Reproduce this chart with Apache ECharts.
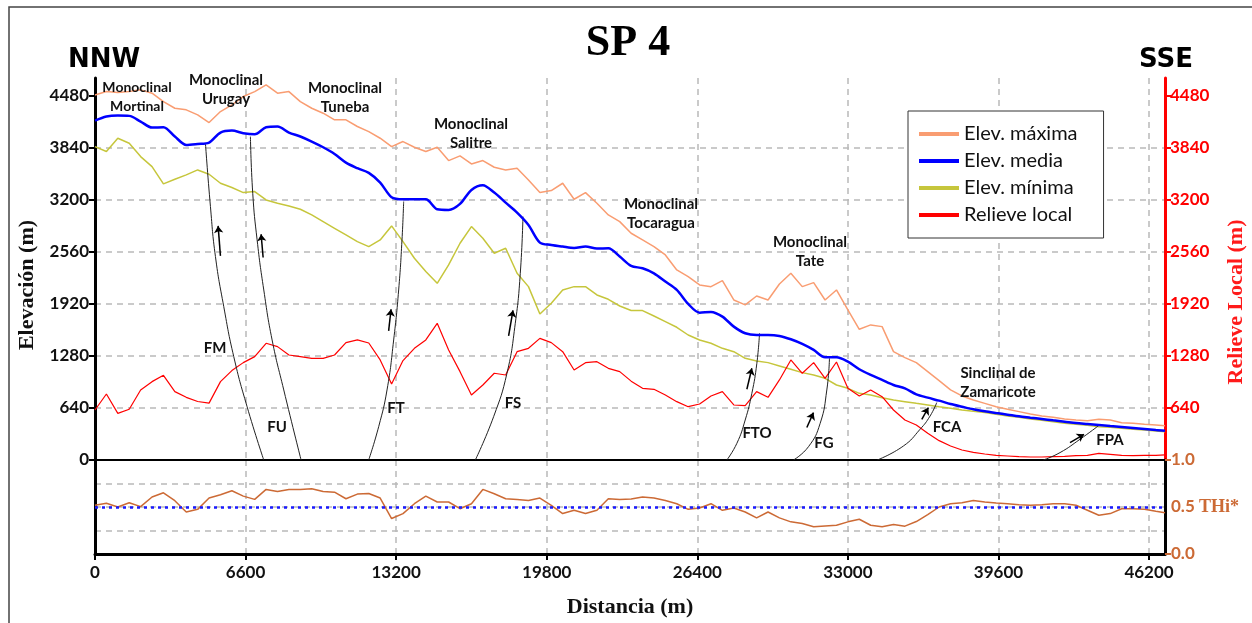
<!DOCTYPE html>
<html>
<head>
<meta charset="utf-8">
<title>SP 4</title>
<script src="https://cdn.jsdelivr.net/npm/echarts@6/dist/echarts.min.js"></script>
<style>
  html, body { margin: 0; padding: 0; background: #fff; }
  #main { width: 1252px; height: 623px; }
</style>
</head>
<body>
<div id="main"></div>
<script>
// distancia (m), one sample every 500 m, last one at the end of the profile
var distancia = [];
for (var i = 0; i <= 93; i++) distancia.push(i * 500);
distancia.push(46900);

var elevMax = [4492, 4533, 4521, 4533, 4554, 4513, 4410, 4328, 4308, 4246, 4152, 4287, 4369, 4472, 4533, 4615,
  4513, 4533, 4410, 4328, 4267, 4185, 4185, 4103, 4040, 3959, 3856, 3918, 3848, 3795, 3848, 3684, 3742, 3643,
  3684, 3602, 3569, 3590, 3446, 3290, 3315, 3405, 3208, 3290, 3159, 3015, 2933, 2790, 2708, 2626, 2523, 2338,
  2256, 2154, 2133, 2207, 1969, 1908, 2018, 1969, 2166, 2297, 2133, 2182, 1969, 2092, 1846, 1608, 1662, 1641,
  1333, 1260, 1198, 1087, 976, 862, 788, 738, 697, 656, 624, 595, 566, 542, 525, 505, 492, 484, 500, 492, 459,
  451, 439, 431, 422];

var elevMedia = [4176, 4226, 4238, 4234, 4164, 4090, 4094, 3980, 3877, 3889, 3906, 4029, 4053, 4021, 4008, 4094,
  4103, 4029, 3980, 3918, 3848, 3766, 3659, 3590, 3532, 3413, 3233, 3208, 3208, 3208, 3085, 3077, 3151, 3323,
  3381, 3290, 3167, 3044, 2892, 2675, 2646, 2626, 2609, 2626, 2601, 2605, 2503, 2388, 2359, 2297, 2195, 2092,
  1920, 1813, 1822, 1764, 1641, 1559, 1538, 1538, 1526, 1485, 1428, 1354, 1264, 1264, 1210, 1116, 1046, 985,
  923, 882, 808, 767, 730, 689, 656, 624, 599, 578, 558, 537, 521, 505, 488, 472, 455, 443, 431, 418, 406, 394,
  382, 369, 361];

var elevMin = [3856, 3795, 3959, 3897, 3733, 3610, 3397, 3454, 3508, 3569, 3516, 3405, 3352, 3290, 3303, 3200,
  3159, 3126, 3085, 3015, 2933, 2851, 2769, 2687, 2626, 2708, 2880, 2687, 2482, 2318, 2174, 2400, 2667, 2872,
  2728, 2544, 2605, 2297, 2133, 1797, 1928, 2092, 2133, 2133, 2031, 1977, 1895, 1840, 1838, 1772, 1703, 1633,
  1538, 1477, 1436, 1374, 1333, 1251, 1218, 1198, 1157, 1116, 1075, 1046, 1005, 923, 882, 820, 800, 767, 738,
  718, 697, 677, 656, 636, 615, 599, 583, 562, 542, 525, 505, 488, 472, 451, 439, 427, 410, 402, 390, 377, 369,
  357, 349];

var relieveLocal = [615, 812, 574, 624, 862, 964, 1042, 841, 771, 720, 700, 964, 1100, 1198, 1272, 1436, 1395,
  1292, 1272, 1251, 1251, 1292, 1444, 1477, 1440, 1231, 935, 1223, 1374, 1477, 1682, 1354, 1087, 800, 923, 1067,
  1046, 1333, 1374, 1497, 1444, 1333, 1108, 1198, 1210, 1128, 1087, 970, 882, 870, 800, 718, 656, 689, 788, 841,
  677, 669, 841, 771, 985, 1231, 1067, 1198, 1005, 1206, 882, 788, 862, 779, 615, 492, 431, 328, 238, 172, 123,
  94, 74, 57, 49, 41, 37, 37, 41, 45, 53, 57, 82, 70, 57, 53, 57, 57, 62];

var thi = [0.518, 0.539, 0.50, 0.546, 0.504, 0.606, 0.651, 0.567, 0.447, 0.475, 0.595, 0.630, 0.673, 0.616,
  0.581, 0.687, 0.665, 0.687, 0.687, 0.694, 0.665, 0.658, 0.588, 0.637, 0.644, 0.595, 0.377, 0.430, 0.535, 0.616,
  0.553, 0.553, 0.482, 0.535, 0.687, 0.641, 0.588, 0.581, 0.570, 0.595, 0.518, 0.430, 0.465, 0.430, 0.465, 0.588,
  0.581, 0.585, 0.606, 0.595, 0.570, 0.535, 0.475, 0.489, 0.535, 0.465, 0.489, 0.447, 0.384, 0.447, 0.384, 0.342,
  0.324, 0.289, 0.299, 0.306, 0.342, 0.370, 0.306, 0.289, 0.313, 0.296, 0.345, 0.419, 0.50, 0.535, 0.546, 0.570,
  0.553, 0.542, 0.535, 0.525, 0.518, 0.525, 0.535, 0.535, 0.518, 0.465, 0.412, 0.430, 0.482, 0.482, 0.475, 0.454,
  0.440];

var thiRef = 0.5;
var distTicks = [0, 6600, 13200, 19800, 26400, 33000, 39600, 46200];
var elevTicks = [0, 640, 1280, 1920, 2560, 3200, 3840, 4480];

// fault traces [distancia, elevación] and their slip arrows [tail, head]
var fallas = [
  { name: 'FM', line: [[4841, 3897], [5060, 3118], [5279, 2503], [5644, 1887], [6082, 1272], [6666, 656], [7396, 0]],
    arrow: [[5498, 2511], [5396, 2880]] },
  { name: 'FU', line: [[6812, 3979], [6914, 3282], [7106, 2708], [7398, 2092], [7763, 1477], [8274, 862], [9033, 0]],
    arrow: [[7369, 2491], [7281, 2778]] },
  { name: 'FT', line: [[13529, 3180], [13456, 2708], [13310, 2092], [13091, 1477], [12800, 862], [12434, 410], [11996, 0]],
    arrow: [[12871, 1588], [12976, 1855]] },
  { name: 'FS', line: [[18759, 2995], [18641, 2297], [18422, 1682], [18057, 1067], [17472, 533], [16670, 0]],
    arrow: [[18129, 1526], [18321, 1842]] },
  { name: 'FTO', line: [[29127, 1559], [29010, 1190], [28791, 820], [28499, 492], [28134, 205], [27696, 0]],
    arrow: [[28572, 870], [28791, 1129]] },
  { name: 'FG', line: [[32193, 1251], [32077, 862], [31785, 451], [31274, 164], [30617, 0]],
    arrow: [[31201, 399], [31492, 583]] },
  { name: 'FCA', line: [[36895, 706], [36603, 541], [36165, 378], [35433, 172], [34288, 0]],
    arrow: [[36239, 501], [36528, 645]] },
  { name: 'FPA', line: [[43976, 420], [43174, 255], [42298, 91], [41567, 0]],
    arrow: [[42737, 214], [43350, 316]] }
];

function zip(xs, ys) {
  return xs.map(function (x, i) { return [x, ys[i]]; });
}
function plain(v) { return String(v); }

var SANS = 'Lato, "DejaVu Sans", sans-serif';
var SERIF = '"Liberation Serif", "DejaVu Serif", serif';
var BROWN = '#cc6a35';
var gridDash = { color: '#b9b9b9', type: [6, 5], width: 1.5 };

var chart = echarts.init(document.getElementById('main'));

var series = [
  { name: 'Elev. máxima', type: 'line', data: zip(distancia, elevMax), xAxisIndex: 0, yAxisIndex: 0,
    showSymbol: false, lineStyle: { color: '#f99d72', width: 1.5 }, itemStyle: { color: '#f99d72' } },
  { name: 'Elev. media', type: 'line', data: zip(distancia, elevMedia), xAxisIndex: 0, yAxisIndex: 0,
    showSymbol: false, smooth: 0.3, lineStyle: { color: '#0000ff', width: 2.5 }, itemStyle: { color: '#0000ff' }, z: 4 },
  { name: 'Elev. mínima', type: 'line', data: zip(distancia, elevMin), xAxisIndex: 0, yAxisIndex: 0,
    showSymbol: false, lineStyle: { color: '#c6c63c', width: 1.5 }, itemStyle: { color: '#c6c63c' } },
  { name: 'Relieve local', type: 'line', data: zip(distancia, relieveLocal), xAxisIndex: 0, yAxisIndex: 1,
    showSymbol: false, lineStyle: { color: '#ff0000', width: 1.2 }, itemStyle: { color: '#ff0000' } },
  { name: 'THi', type: 'line', data: zip(distancia, thi), xAxisIndex: 1, yAxisIndex: 2,
    showSymbol: false, lineStyle: { color: BROWN, width: 1.5 },
    markLine: { silent: true, symbol: 'none', label: { show: false },
      lineStyle: { color: '#1a1aff', width: 2.5, type: [3, 4] }, data: [{ yAxis: thiRef }] } }
];

fallas.forEach(function (f) {
  series.push({
    name: f.name, type: 'line', data: f.line, xAxisIndex: 0, yAxisIndex: 0,
    smooth: true, showSymbol: false, silent: true, z: 3,
    lineStyle: { color: '#222', width: 1 },
    markLine: { silent: true, symbol: ['none', 'arrow'], symbolSize: 7, label: { show: false },
      lineStyle: { color: '#000', width: 1.5, type: 'solid' },
      data: [[{ coord: f.arrow[0] }, { coord: f.arrow[1] }]] }
  });
});

function txt(text, x, y, font, color, rot) {
  return { type: 'text', x: x, y: y, rotation: rot || 0, z: 50,
    style: { text: text, font: font, fill: color || '#111', textAlign: 'center', textVerticalAlign: 'middle',
      align: 'center', verticalAlign: 'middle', lineHeight: 19 } };
}

var lblFont = 'bold 15px ' + SANS;
var graphic = [
  { type: 'rect', shape: { x: 9, y: 7, width: 1300, height: 700 }, style: { fill: 'none', stroke: '#444', lineWidth: 1.5 }, silent: true },
  txt('SP 4', 628, 44, 'bold 44px ' + SERIF, '#000'),
  txt('NNW', 104, 60, 'bold 26px "DejaVu Sans", sans-serif', '#000'),
  txt('SSE', 1166, 60, 'bold 26px "DejaVu Sans", sans-serif', '#000'),
  txt('Elevación (m)', 27, 285, 'bold 22px ' + SERIF, '#111', Math.PI / 2),
  txt('Relieve Local (m)', 1236, 302, 'bold 22px ' + SERIF, '#ff1a1a', Math.PI / 2),
  txt('Monoclinal\nMortinal', 137, 97, 'bold 14px ' + SANS),
  txt('Monoclinal\nUrugay', 226, 90, lblFont),
  txt('Monoclinal\nTuneba', 345, 98, lblFont),
  txt('Monoclinal\nSalitre', 471, 134, lblFont),
  txt('Monoclinal\nTocaragua', 661, 214, lblFont),
  txt('Monoclinal\nTate', 810, 252, lblFont),
  txt('Sinclinal de\nZamaricote', 998, 383, lblFont)
];
var faultLabelPos = { FM: [215, 348], FU: [277, 427], FT: [396, 408], FS: [513, 403],
  FTO: [757, 433], FG: [824, 443], FCA: [947, 427], FPA: [1110, 440] };
fallas.forEach(function (f) {
  var p = faultLabelPos[f.name];
  graphic.push(txt(f.name, p[0], p[1], 'bold 15px ' + SANS));
});

var option = {
  animation: false,
  backgroundColor: '#fff',
  graphic: graphic,
  legend: {
    data: [
      { name: 'Elev. máxima', icon: 'rect' },
      { name: 'Elev. media', icon: 'rect' },
      { name: 'Elev. mínima', icon: 'rect' },
      { name: 'Relieve local', icon: 'rect' }
    ],
    orient: 'vertical', left: 908, top: 111,
    itemWidth: 40, itemHeight: 4, itemGap: 7,
    padding: [13, 26, 13, 11],
    borderColor: '#333', borderWidth: 1, backgroundColor: '#fff',
    textStyle: { fontFamily: SANS, fontSize: 20, color: '#111' },
    selectedMode: false
  },
  grid: [
    { left: 95, right: 87, top: 78, height: 382 },
    { left: 95, right: 87, top: 460, height: 94 }
  ],
  xAxis: [
    { type: 'value', gridIndex: 0, min: 0, max: 46900, interval: 6600,
      axisLine: { lineStyle: { color: '#000', width: 2 } },
      axisTick: { show: false }, axisLabel: { show: false },
      splitLine: { show: true, lineStyle: gridDash } },
    { type: 'value', gridIndex: 1, min: 0, max: 46900, interval: 6600,
      name: 'Distancia (m)', nameLocation: 'middle', nameGap: 42,
      nameTextStyle: { fontFamily: SERIF, fontWeight: 'bold', fontSize: 22, color: '#111' },
      axisLine: { lineStyle: { color: '#000', width: 3 } },
      axisTick: { show: true, length: 6, lineStyle: { color: '#000', width: 2 }, customValues: distTicks },
      axisLabel: { fontFamily: SANS, fontWeight: 'bold', fontSize: 17, color: '#111', margin: 10,
        customValues: distTicks, formatter: plain },
      splitLine: { show: true, lineStyle: gridDash } }
  ],
  yAxis: [
    { type: 'value', gridIndex: 0, position: 'left', min: 0, max: 4700, interval: 640,
      axisLine: { show: true, lineStyle: { color: '#000', width: 3 } },
      axisTick: { show: true, length: 6, lineStyle: { color: '#000', width: 2 }, customValues: elevTicks },
      axisLabel: { fontFamily: SANS, fontWeight: 'bold', fontSize: 17, color: '#111', margin: 6,
        customValues: elevTicks, formatter: plain },
      splitLine: { show: true, showMaxLine: false, lineStyle: gridDash } },
    { type: 'value', gridIndex: 0, position: 'right', min: 0, max: 4700, interval: 640,
      axisLine: { show: true, lineStyle: { color: '#ff0000', width: 3 } },
      axisTick: { show: true, length: 6, lineStyle: { color: '#ff0000', width: 2 }, customValues: elevTicks.slice(1) },
      axisLabel: { fontFamily: SANS, fontWeight: 'bold', fontSize: 17, color: '#ff0000', margin: 5,
        customValues: elevTicks.slice(1), formatter: plain },
      splitLine: { show: false } },
    { type: 'value', gridIndex: 1, position: 'left', min: 0, max: 1, interval: 0.25,
      axisLine: { show: true, lineStyle: { color: '#000', width: 3 } },
      axisTick: { show: false }, axisLabel: { show: false },
      splitLine: { show: true, lineStyle: gridDash } },
    { type: 'value', gridIndex: 1, position: 'right', min: 0, max: 1, interval: 0.25,
      axisLine: { show: true, lineStyle: { color: '#000', width: 3 } },
      axisTick: { show: true, length: 6, lineStyle: { color: BROWN, width: 2 }, customValues: [0, 1] },
      axisLabel: { fontFamily: SANS, fontWeight: 'bold', fontSize: 17, color: BROWN, margin: 6,
        customValues: [0, 0.5, 1],
        formatter: function (v) { return v === 0.5 ? '0.5 {t|THi*}' : v.toFixed(1); },
        rich: { t: { fontFamily: SERIF, fontWeight: 'bold', fontSize: 18, color: BROWN } } },
      splitLine: { show: false } }
  ],
  series: series
};

chart.setOption(option);
</script>
</body>
</html>
